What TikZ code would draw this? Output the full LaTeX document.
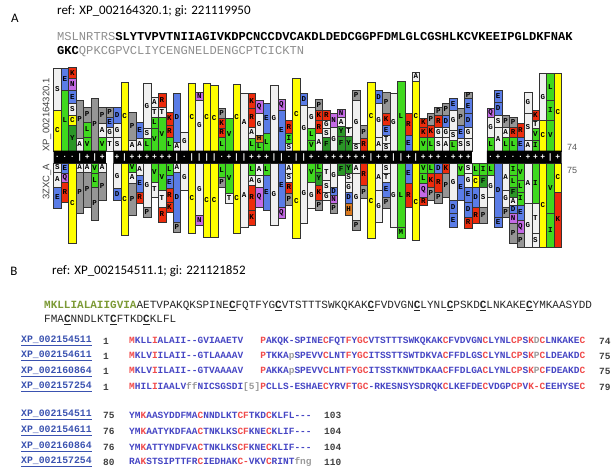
\documentclass[tikz,border=0pt]{standalone}
\usepackage{fontspec}
\setmainfont{Carlito}
\setsansfont{Liberation Sans}
\setmonofont{Liberation Mono}
\usepackage{tikz}
\usetikzlibrary{positioning}

\definecolor{resyel}{HTML}{FFFF00}
\definecolor{resgrn}{HTML}{3FD81E}
\definecolor{resdgn}{HTML}{2A9626}
\definecolor{resblu}{HTML}{5A7CE6}
\definecolor{resred}{HTML}{EC2B0C}
\definecolor{respur}{HTML}{C46AE6}
\definecolor{resgry}{HTML}{959595}
\definecolor{reswht}{HTML}{F0F0F0}
\definecolor{resorg}{HTML}{DB7A1E}
\definecolor{seqgry}{HTML}{8E8E8E}
\definecolor{seqgrn}{HTML}{7C9A36}
\definecolor{alnblu}{HTML}{4646C4}
\definecolor{alnred}{HTML}{F04A4A}
\definecolor{alngry}{HTML}{9A9A9A}
\definecolor{acclnk}{HTML}{3A52B0}

\tikzset{
  res/.style={draw=black!80,line width=0.3pt},
  res/C/.style={fill=resyel},
  res/L/.style={fill=resgrn}, res/V/.style={fill=resgrn}, res/I/.style={fill=resgrn},
  res/M/.style={fill=resgrn}, res/F/.style={fill=resdgn}, res/Y/.style={fill=resdgn},
  res/D/.style={fill=resblu}, res/E/.style={fill=resblu},
  res/K/.style={fill=resred}, res/R/.style={fill=resred},
  res/N/.style={fill=respur}, res/Q/.style={fill=respur},
  res/P/.style={fill=resgry}, res/H/.style={fill=resorg},
  res/A/.style={fill=reswht}, res/G/.style={fill=reswht},
  res/S/.style={fill=reswht}, res/T/.style={fill=reswht},
  reslbl/.style={inner sep=0pt,font=\ttfamily\bfseries\fontsize{7.5}{7.5}\selectfont},
  bandsym/.style={inner sep=0pt,text=white,font=\ttfamily\bfseries\fontsize{8}{8}\selectfont}
}

\newcommand{\rescol}[2]{%
  \foreach \rs/\ya/\yb in {#2}{%
    \draw[res,res/\rs] ({53.6+7.47*(#1-1)},{60+\ya/3}) rectangle ({53.6+7.47*#1},{60+\yb/3});
    \path ({53.6+7.47*(#1-0.5)},{60+(\ya+\yb)/6}) node[reslbl] {\rs};
  }}
\newcommand{\rd}[1]{\textcolor{alnred}{#1}}
\newcommand{\gy}[1]{\textcolor{alngry}{#1}}
\newcommand{\cys}{\underline{\textbf{C}}}

\begin{document}
\begin{tikzpicture}[x=1pt,y=-1pt,
  panel/.style={inner sep=0pt,font=\fontsize{13}{13}\selectfont},
  reftxt/.style={anchor=west,inner sep=0pt,font=\fontsize{13}{13}\selectfont},
  seqA/.style={anchor=west,inner sep=0pt,font=\ttfamily\fontsize{12.1}{12.1}\selectfont},
  seqB/.style={anchor=west,inner sep=0pt,text=black!85,font=\ttfamily\fontsize{11}{11}\selectfont},
  chlbl/.style={inner sep=0pt,rotate=90,text=black!75,font=\sffamily\fontsize{9.5}{9.5}\selectfont},
  chnum/.style={anchor=west,inner sep=0pt,text=black!65,font=\sffamily\fontsize{9}{9}\selectfont},
  acc/.style={anchor=west,inner sep=0pt,text=acclnk,font=\ttfamily\bfseries\fontsize{9.8}{9.8}\selectfont},
  posnum/.style={anchor=west,inner sep=0pt,text=black!75,font=\ttfamily\bfseries\fontsize{9.5}{9.5}\selectfont},
  aln/.style={anchor=west,inner sep=0pt,text=alnblu,font=\ttfamily\bfseries\fontsize{9.5}{9.5}\selectfont}]
\useasboundingbox (0,0) rectangle (614,473);

\node[panel] (panA) at (15,18) {A};
\node[reftxt] (refA) at (57,11) {ref: XP\_002164320.1; gi: 221119950};
\node[seqA] (seqA1) at (57,37) {{\color{seqgry}MSLNRTRS}\textbf{SLYTVPVTNIIAGIVKDPCNCCDVCAKDLDEDCGGPFDMLGLCGSHLKCVKEEIPGLDKFNAK}};
\node[seqA] (seqA2) at (57,52) {\textbf{GKC}{\color{seqgry}QPKCGPVCLIYCENGNELDENGCPTCICKTN}};

\node[chlbl] (qry) at (47,115) {XP\_002164320.1};
\node[chlbl] (tmpl) at (47,182) {3ZXC\_A};

\rescol{1}{S/25/150,C/150/272,S/310/335,A/335/380,E/380/445}
\rescol{2}{E/25/90,L/90/272,E/310/340,Q/340/365,R/365/425}
\rescol{3}{K/22/55,N/55/90,E/90/130,S/130/165,C/165/195,Y/195/272,C/310/550}
\rescol{4}{P/120/235,A/235/272,A/310/335,P/335/460}
\rescol{5}{P/140/185,L/185/232,V/232/272,A/310/335,P/335/440}
\rescol{6}{P/115/272,V/310/340,L/340/380,P/380/480}
\rescol{7}{P/140/190,A/190/232,V/232/272,A/310/335,P/335/420}
\rescol{8}{P/140/170,E/170/200,G/200/232,T/232/272}
\rescol{9}{D/140/190,G/190/232,S/232/272,G/310/385,D/385/420}
\rescol{10}{C/65/272,C/310/525}
\rescol{11}{P/155/240,A/240/272,V/310/335,A/335/370,P/370/465}
\rescol{12}{E/185/235,A/235/272,A/310/345,E/345/395,R/395/430}
\rescol{13}{G/70/205,S/205/235,L/235/272,G/310/440,P/440/470}
\rescol{14}{A/110/140,T/140/170,L/170/205,V/205/272,V/310/365,T/365/410}
\rescol{15}{R/100/140,T/140/170,V/170/272,V/310/390,T/390/440,R/440/485}
\rescol{16}{K/155/195,R/195/230,L/230/272,L/310/345,E/345/385,R/385/425,K/425/455}
\rescol{17}{D/100/245,A/245/272,A/310/335,D/335/485,P/485/515}
\rescol{18}{G/215/272,G/310/390}
\rescol{19}{C/70/272,C/310/520}
\rescol{20}{N/95/120,G/120/272,G/310/465,N/465/495}
\rescol{21}{C/70/272,C/310/530}
\rescol{22}{C/75/272,C/310/530}
\rescol{23}{P/145/175,K/175/205,R/205/230,L/230/272,L/310/350,P/350/380}
\rescol{24}{V/175/272,V/310/400,T/400/430}
\rescol{25}{C/72/272,C/310/520}
\rescol{26}{A/100/272,A/310/500}
\rescol{27}{K/100/145,R/145/200,A/200/235,L/235/272,L/310/345,A/345/375,R/375/450,K/450/495}
\rescol{28}{Q/120/160,G/160/225,H/225/245,L/245/272,A/310/345,G/345/380,Q/380/440}
\rescol{29}{E/130/220,L/220/272,L/310/345,E/345/450}
\rescol{30}{G/75/272,G/310/495}
\rescol{31}{Q/118/150,E/150/272,E/310/440,Q/440/475}
\rescol{32}{R/180/220,I/220/250,S/250/272,A/310/340,S/340/365,R/365/400,P/400/435}
\rescol{33}{C/55/272,C/310/535}
\rescol{34}{D/100/135,G/135/272,G/310/490}
\rescol{35}{G/140/205,L/205/240,V/240/272,V/310/365,G/365/445}
\rescol{36}{P/118/150,K/150/180,R/180/220,A/220/272,L/310/335,Y/335/375,K/375/420,P/420/450}
\rescol{37}{R/150/180,G/180/205,S/205/232,F/232/272,T/310/360,S/360/395,G/395/420}
\rescol{38}{N/160/200,G/200/272,G/310/380,D/380/405,N/405/430,P/430/460}
\rescol{39}{N/148/172,A/172/198,Y/198/228,F/228/272,F/310/345}
\rescol{40}{T/200/228,Y/228/272,Y/310/340,S/340/365,G/365/395,D/395/430,H/430/465}
\rescol{41}{P/90/120,G/120/250,S/250/272,A/310/340,G/340/480,P/480/510}
\rescol{42}{P/195/235,R/235/272,R/310/375,P/375/415}
\rescol{43}{C/65/272,C/310/535}
\rescol{44}{D/90/130,G/130/230,A/230/272,A/310/390,G/390/485}
\rescol{45}{P/95/160,K/160/195,E/195/225,T/225/250,S/250/272,S/310/340,T/340/365,E/365/410,P/410/445}
\rescol{46}{G/100/272,G/310/500}
\rescol{47}{L/62/272,L/310/500,M/500/535}
\rescol{48}{R/160/225,E/225/272,E/310/370,R/370/440}
\rescol{49}{A/35/62,C/62/272,C/310/540}
\rescol{50}{K/175/200,K/200/230,V/230/272,V/310/340,L/340/370,Q/370/410,R/410/435}
\rescol{51}{P/160/195,K/195/232,L/232/272,L/310/340,K/340/380,P/380/420}
\rescol{52}{P/140/165,R/165/200,G/200/232,S/232/272,D/310/340,R/340/395,P/395/430}
\rescol{53}{P/130/165,D/165/200,G/200/232,A/232/272,K/310/340,P/340/410}
\rescol{54}{E/115/150,G/150/210,S/210/240,L/240/272,G/310/420,D/420/460,E/460/500}
\rescol{55}{P/145/195,E/195/235,S/235/272,V/310/345,E/345/420}
\rescol{56}{P/95/115,E/115/160,D/160/200,G/200/235,S/235/272,S/310/340,G/340/380,E/380/425,D/425/470,R/470/505}
\rescol{57}{L/310/345,C/345/380,D/380/440,R/440/490}
\rescol{58}{I/310/345,F/345/380,S/380/440,P/440/490}
\rescol{59}{Q/145/170,G/170/232,L/232/272,L/310/345,G/345/410}
\rescol{60}{E/90/125,D/125/165,S/165/200,A/200/272,D/310/470,E/470/500}
\rescol{61}{P/165/200,A/200/232,L/232/272,A/310/390,G/390/440,P/440/470}
\rescol{62}{P/170/200,R/200/232,L/232/272,I/310/345,L/345/380,F/380/410,A/410/435,D/435/460,N/460/490,P/490/550}
\rescol{63}{R/190/230,E/230/272,V/310/360,L/360/395,I/395/435,E/435/480,Q/480/520,P/520/560}
\rescol{64}{G/95/160,S/160/240,A/240/272,A/310/430,G/430/560}
\rescol{65}{K/150/180,T/180/205,V/205/240,I/240/272,I/310/430,T/430/520,S/520/560}
\rescol{66}{G/40/180,C/180/272,C/310/560}
\rescol{67}{L/40/120,I/120/180,V/180/272,V/310/460,I/460/560}
\rescol{68}{C/40/272,C/310/395,K/395/560}

\fill[black] (53.6,150.7) rectangle (105.9,163.3) (113.4,150.7) rectangle (471.9,163.3) (486.9,150.7) rectangle (561.6,163.3);
\foreach \cc/\sy in {1/.,2/.,3/.,4/|,5/+,6/|,7/+,9/+,10/|,11/+,12/+,13/+,14/+,15/+,16/+,17/|,18/.,19/|,20/|,21/|,22/|,23/.,24/+,25/|,26/|,27/+,28/+,29/+,30/|,31/|,32/.,33/|,34/|,35/+,36/.,37/+,38/+,39/+,40/+,41/+,42/+,43/|,44/+,45/+,46/|,47/|,48/+,49/|,50/+,51/+,52/+,53/.,54/+,55/+,56/+,59/.,60/+,61/.,62/.,63/.,64/+,65/+,66/+,67/|,68/+}
  \node[bandsym] at ({53.6+7.47*(\cc-0.5)},157) {\sy};

\node[chnum] (qend) at (567,147) {74};
\node[chnum] (tend) at (567,170) {75};

\node[panel] (panB) at (14,271) {B};
\node[reftxt] (refB) at (52,271) {ref: XP\_002154511.1; gi: 221121852};
\node[seqB] (seqB1) at (44,306) {{\color{seqgrn}\bfseries MKLLIALAIIGVIA}AETVPAKQKSPINE\cys FQTFYG\cys VTSTTTSWKQKAK\cys FVDVGN\cys LYNL\cys PSKD\cys LNKAKE\cys YMKAASYDD};
\node[seqB] (seqB2) at (44,320) {FMA\cys NNDLKT\cys FTKD\cys KLFL};

\node[acc] (acc1) at (21,341) {\underline{XP\_002154511}};
\node[posnum] (beg1) at (103,341) {1};
\node[aln] (aln1) at (129,341) {\rd{M}KLL\rd{I}ALAII--GVIAAETV\phantom{[5]}\rd{P}AKQK-SPINE\rd{C}FQT\rd{F}Y\rd{GC}VTSTTTSWKQKAK\rd{C}FVDVGN\rd{C}LYNL\rd{CP}S\rd{K}\gy{D}\rd{C}LNKAKE\rd{C}};
\node[posnum] (end1) at (599,341) {74};
\node[acc] (acc2) at (21,356) {\underline{XP\_002154611}};
\node[posnum] (beg2) at (103,356) {1};
\node[aln] (aln2) at (129,356) {\rd{M}KLV\rd{I}ILAII--GTLAAAAV\phantom{[5]}\rd{P}TKKA\gy{p}SPEVV\rd{C}LNT\rd{F}Y\rd{GC}ITSSTTSWTDKVA\rd{C}FFDLGS\rd{C}LYNL\rd{CP}S\rd{K}\gy{P}\rd{C}LDEAKD\rd{C}};
\node[posnum] (end2) at (599,356) {75};
\node[acc] (acc3) at (21,371.5) {\underline{XP\_002160864}};
\node[posnum] (beg3) at (103,371.5) {1};
\node[aln] (aln3) at (129,371.5) {\rd{M}KLV\rd{I}ILAII--GTVAAAAV\phantom{[5]}\rd{P}AKKA\gy{p}SPEVV\rd{C}LNT\rd{F}Y\rd{GC}ITSSTKNWTDKAA\rd{C}FFDLGA\rd{C}LYNL\rd{CP}S\rd{K}\gy{P}\rd{C}FDEAKD\rd{C}};
\node[posnum] (end3) at (599,371.5) {75};
\node[acc] (acc4) at (21,387) {\underline{XP\_002157254}};
\node[posnum] (beg4) at (103,387) {1};
\node[aln] (aln4) at (129,387) {\rd{M}HIL\rd{I}IAALV\gy{ff}NICSGSDI\gy{[5]}\rd{P}CLLS-ESHAE\rd{C}YRV\rd{F}T\rd{GC}-RKESNSYSDRQK\rd{C}LKEFDE\rd{C}VDGP\rd{CP}V\rd{K-C}EEHYSE\rd{C}};
\node[posnum] (end4) at (599,387) {79};

\node[acc] (acc5) at (21,415) {\underline{XP\_002154511}};
\node[posnum] (beg5) at (103,415) {75};
\node[aln] (aln5) at (129,415) {YM\rd{K}AASYDDFMA\rd{C}NNDLKT\rd{CF}TKD\rd{C}KLFL---};
\node[posnum] (end5) at (324,415) {103};
\node[acc] (acc6) at (21,431) {\underline{XP\_002154611}};
\node[posnum] (beg6) at (103,431) {76};
\node[aln] (aln6) at (129,431) {YM\rd{K}AATYKDFAA\rd{C}TNKLKS\rd{CF}KNE\rd{C}KLIF---};
\node[posnum] (end6) at (324,431) {104};
\node[acc] (acc7) at (21,447) {\underline{XP\_002160864}};
\node[posnum] (beg7) at (103,447) {76};
\node[aln] (aln7) at (129,447) {YM\rd{K}ATTYNDFVA\rd{C}TNKLKS\rd{CF}KNE\rd{C}KLIF---};
\node[posnum] (end7) at (324,447) {104};
\node[acc] (acc8) at (21,462) {\underline{XP\_002157254}};
\node[posnum] (beg8) at (103,462) {80};
\node[aln] (aln8) at (129,462) {RA\rd{K}STSIPTTFR\rd{C}IEDHAK\rd{C-}VKV\rd{C}RINT\gy{fng}};
\node[posnum] (end8) at (324,462) {110};
\end{tikzpicture}
\end{document}
